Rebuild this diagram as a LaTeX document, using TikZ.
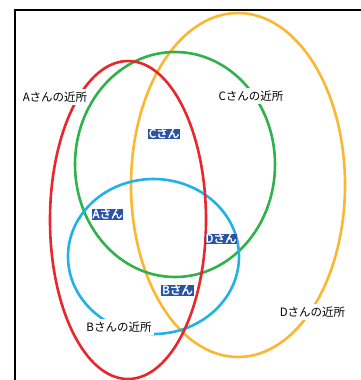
\documentclass[tikz,border=0pt]{standalone}
\usepackage{fontspec}
\setmainfont{Noto Sans CJK JP}
\newfontfamily\jpheavy{Noto Sans CJK JP}[FakeBold=2.5]
\definecolor{cred}{HTML}{E8262B}
\definecolor{cgreen}{HTML}{2FB14B}
\definecolor{corange}{HTML}{FBB731}
\definecolor{cblue}{HTML}{21B1E6}
\definecolor{cbox}{HTML}{2A55A5}
\tikzset{
  ring/.style={line width=2.6pt},
  area/.style={fill=white, inner xsep=2pt, inner ysep=3pt, font=\fontsize{11.5}{13}\selectfont},
  person/.style={fill=cbox, text=white, inner xsep=1pt, inner ysep=0pt, text height=8.8pt, text depth=1.6pt, font=\jpheavy\fontsize{11.5}{12}\selectfont}
}
\begin{document}
\begin{tikzpicture}[x=1pt,y=-1pt]
\useasboundingbox (0,0) rectangle (361,380);
\draw[line width=2pt] (15,380) -- (15,10) -- (361,10);
\draw[ring, corange] (238,185) ellipse [x radius=107, y radius=172];
\draw[ring, cgreen] (175,164.5) ellipse [x radius=100, y radius=112.5];
\draw[ring, cblue] (153.5,256.5) ellipse [x radius=85.5, y radius=77.5];
\draw[ring, cred] (128,220) ellipse [x radius=78, y radius=159];
\node[area] (la) at (55,97) {Aさんの近所};
\node[area] (lc) at (251,96) {Cさんの近所};
\node[area] (lb) at (119,327) {Bさんの近所};
\node[area] (ld) at (312.5,312) {Dさんの近所};
\node[person] (pc) at (164,134) {Cさん};
\node[person] (pa) at (107.5,214.5) {Aさん};
\node[person] (pd) at (221,239) {Dさん};
\node[person] (pb) at (177.5,290.5) {Bさん};
\end{tikzpicture}
\end{document}
